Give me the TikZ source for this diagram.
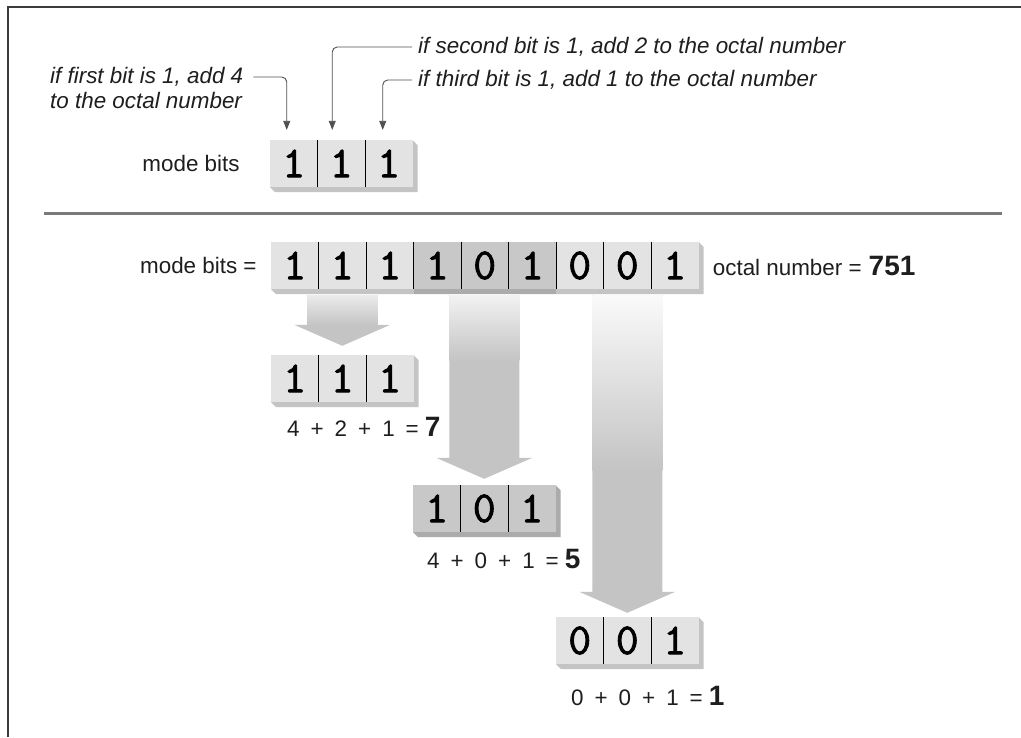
\documentclass[tikz,border=0pt]{standalone}
\usepackage{fontspec}
\setmainfont{Liberation Sans}
\newfontfamily\bitfont[FakeBold=2]{Latin Modern Mono}
\usetikzlibrary{arrows.meta,calc}

\definecolor{framegray}{HTML}{3C3C3C}
\definecolor{rulegray}{HTML}{7A7A7A}
\definecolor{facelight}{HTML}{E3E3E3}
\definecolor{sidelight}{HTML}{C4C4C4}
\definecolor{facedark}{HTML}{C8C8C8}
\definecolor{sidedark}{HTML}{ABABAB}
\definecolor{arrowgray}{HTML}{C4C4C4}
\definecolor{fadeA}{HTML}{EBEBEB}
\definecolor{fadeB}{HTML}{F2F2F2}
\definecolor{fadeC}{HTML}{FAFAFA}
\definecolor{leadergray}{HTML}{505050}
\definecolor{textgray}{HTML}{1E1E1E}

% extruded side of a row of bit cells: x, y, width, height, colour
\newcommand\extrude[5]{%
  \fill[#5] (#1+#3,#2) -- (#1+#3+5,#2+5) -- (#1+#3+5,#2+#4+5)
    -- (#1+5,#2+#4+5) -- (#1,#2+#4) -- cycle;}

% wide block arrow from a cell of the top row down to a group:
% source, target, fade length, fade colour, gap above target
\newcommand\bigarrow[5]{%
  \fill[arrowgray] let \p1=(#1.south), \p2=(#2.north) in
    (\x2-35pt,\y1-6pt) -- (\x2+35pt,\y1-6pt) -- (\x2+35pt,\y2+#5pt+21pt)
    -- (\x2+48pt,\y2+#5pt+21pt) -- (\x2,\y2+#5pt)
    -- (\x2-48pt,\y2+#5pt+21pt) -- (\x2-35pt,\y2+#5pt+21pt) -- cycle;
  \shade[top color=#4, bottom color=arrowgray] let \p1=(#1.south), \p2=(#2.north) in
    (\x2-35pt,\y1-6pt) rectangle (\x2+35pt,\y1-6pt-#3pt);}

\newcommand\gap{\hspace{11pt}}
\newcommand\res[1]{{\bfseries\fontsize{28}{28}\selectfont #1}}

\begin{document}
\begin{tikzpicture}[x=1pt,y=-1pt,
  lbl/.style={inner sep=0pt, font=\fontsize{22.4}{26}\selectfont, text=textgray},
  note/.style={inner sep=0pt, font=\fontsize{22.4}{26}\selectfont\itshape, text=textgray},
  bit/.style={inner sep=0pt, minimum width=47.5pt, minimum height=47pt,
    fill=facelight, font=\bitfont\fontsize{44}{44}\selectfont},
  darkbit/.style={bit, fill=facedark},
  divider/.style={line width=1.1pt, black},
  leader/.style={leadergray, line width=0.9pt, rounded corners=5pt,
    -{Triangle[length=9pt,width=7pt]}},
  sumlabel/.style={inner sep=0pt, font=\fontsize{22.4}{26}\selectfont, text=textgray}
]
\fill[white] (0,0) rectangle (1021,737);
\useasboundingbox (0,0) rectangle (1021,737);

% frame and separating rule
\draw[framegray, line width=2.5pt] (8,737) -- (8,7) -- (1021,7);
\draw[rulegray, line width=3pt] (44,213) -- (1002,213);

% ---- top part: a single group of three bits ----
\extrude{270}{140}{142.5}{47}{sidelight}
\foreach \d [count=\i] in {1,1,1}
  \node[bit] (a\i) at (270+\i*47.5-23.75,163.5) {\d};
\foreach \i in {1,2}
  \draw[divider] (a\i.north east) -- (a\i.south east);
\node[lbl, anchor=east] (abits) at ([xshift=-30pt]a1.west) {mode bits};

\node[note, anchor=west] (n1a) at (50,77) {if first bit is 1, add 4};
\node[note, anchor=west] (n1b) at (50,100) {to the octal number};
\node[note, anchor=west] (n2) at (418,47) {if second bit is 1, add 2 to the octal number};
\node[note, anchor=west] (n3) at (418,80) {if third bit is 1, add 1 to the octal number};

\draw[leader] ([xshift=10pt]n1a.east) -| ([xshift=-7pt,yshift=10pt]a1.north);
\draw[leader] ([xshift=-6pt]n2.west) -| ([xshift=-9pt,yshift=10pt]a2.north);
\draw[leader] ([xshift=-6pt]n3.west) -| ([xshift=-6pt,yshift=10pt]a3.north);

% ---- lower part: nine mode bits split into three octal digits ----
\extrude{271}{242}{427.5}{47}{sidelight}
\fill[sidedark] (413.5,289) rectangle (556,294);
\foreach \d/\s [count=\i] in {1/bit,1/bit,1/bit,1/darkbit,0/darkbit,1/darkbit,0/bit,0/bit,1/bit}
  \node[\s] (m\i) at (271+\i*47.5-23.75,265.5) {\d};
\foreach \i in {1,...,8}
  \draw[divider] (m\i.north east) -- (m\i.south east);
\node[lbl, anchor=east] (mbits) at ([xshift=-14pt]m1.west) {mode bits =};
\node[lbl, anchor=west] (octal) at ([xshift=14pt]m9.east) {octal number =\hspace{7pt}\res{751}};

% first digit
\extrude{271}{355}{142.5}{47}{sidelight}
\foreach \d [count=\i] in {1,1,1}
  \node[bit] (p\i) at (271+\i*47.5-23.75,378.5) {\d};
\foreach \i in {1,2}
  \draw[divider] (p\i.north east) -- (p\i.south east);
\node[sumlabel, anchor=base west] (s1) at (287,436) {4\gap+\gap2\gap+\gap1\gap=\hspace{6pt}\res{7}};

% second digit
\extrude{413}{485}{142.5}{47}{sidedark}
\foreach \d [count=\i] in {1,0,1}
  \node[darkbit] (q\i) at (413+\i*47.5-23.75,508.5) {\d};
\foreach \i in {1,2}
  \draw[divider] (q\i.north east) -- (q\i.south east);
\node[sumlabel, anchor=base west] (s2) at (427,568) {4\gap+\gap0\gap+\gap1\gap=\hspace{6pt}\res{5}};

% third digit
\extrude{556}{617}{142.5}{47}{sidelight}
\foreach \d [count=\i] in {0,0,1}
  \node[bit] (r\i) at (556+\i*47.5-23.75,640.5) {\d};
\foreach \i in {1,2}
  \draw[divider] (r\i.north east) -- (r\i.south east);
\node[sumlabel, anchor=base west] (s3) at (571,705) {0\gap+\gap0\gap+\gap1\gap=\hspace{6pt}\res{1}};

% block arrows from each group of three to its digit
\bigarrow{m2}{p2}{30}{fadeA}{9}
\bigarrow{m5}{q2}{65}{fadeB}{6}
\bigarrow{m8}{r2}{175}{fadeC}{4}
\end{tikzpicture}
\end{document}
